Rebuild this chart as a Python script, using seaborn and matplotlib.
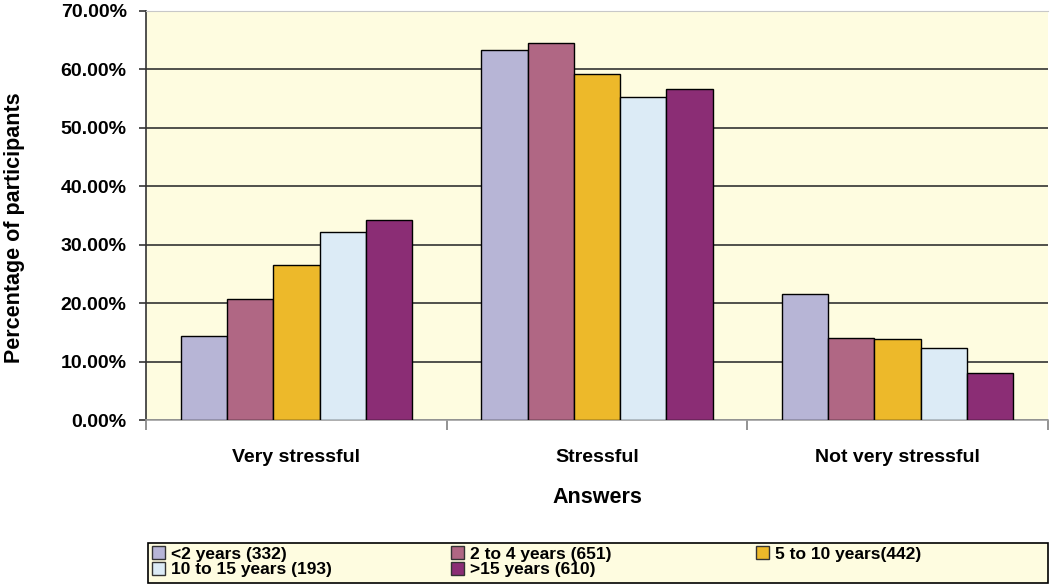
import pandas as pd
import numpy as np
import matplotlib
matplotlib.use("Agg")
import matplotlib.pyplot as plt
import seaborn as sns
from matplotlib.ticker import FixedLocator

sns.set_style("white")
plt.rcParams["font.family"] = ["Liberation Sans", "DejaVu Sans"]
plt.rcParams["font.weight"] = "bold"
plt.rcParams["text.color"] = "black"
plt.rcParams["axes.labelcolor"] = "black"
plt.rcParams["xtick.color"] = "black"
plt.rcParams["ytick.color"] = "black"

answers = ["Very stressful", "Stressful", "Not very stressful"]
groups = [
    "<2 years (332)",
    "2 to 4 years (651)",
    "5 to 10 years(442)",
    "10 to 15 years (193)",
    ">15 years (610)",
]
lt2_years = [14.3, 63.3, 21.5]
y2_to_4 = [20.7, 64.5, 14.1]
y5_to_10 = [26.5, 59.3, 13.9]
y10_to_15 = [32.1, 55.3, 12.4]
gt15_years = [34.3, 56.6, 8.0]
colors = ["#B7B5D6", "#B06784", "#EDB92A", "#DCEBF6", "#8B2D75"]

series = [lt2_years, y2_to_4, y5_to_10, y10_to_15, gt15_years]
rows = []
for g, vals in zip(groups, series):
    for a, v in zip(answers, vals):
        rows.append({"answer": a, "group": g, "pct": v})
df = pd.DataFrame(rows)

fig = plt.figure(figsize=(10.51, 5.88), dpi=100)
ax = fig.add_axes([0.139, 0.2857, 0.858, 0.6956])
ax.set_facecolor("#FEFCE0")

sns.barplot(
    data=df, x="answer", y="pct", hue="group",
    order=answers, hue_order=groups, palette=colors,
    width=0.77, saturation=1, edgecolor="black", linewidth=1,
    ax=ax, legend=False, zorder=3,
)

ax.set_ylim(0, 70)
ax.set_xlim(-0.5, 2.5)
ax.set_yticks(np.arange(0, 71, 10))
ax.set_yticklabels([f"{v:.2f}%" for v in np.arange(0, 71, 10)],
                   fontsize=14, fontweight="bold", color="black")
ax.yaxis.grid(True, color="#333333", linewidth=1.2, zorder=0)
ax.set_axisbelow(True)

ax.tick_params(axis="x", which="major", length=0, pad=21, labelsize=14,
               labelcolor="black")
ax.xaxis.set_minor_locator(FixedLocator([-0.5, 0.5, 1.5, 2.5]))
ax.tick_params(axis="x", which="minor", length=7, width=1.2, color="#808080",
               direction="out", bottom=True)
ax.tick_params(axis="y", length=5, width=1.2, color="#333333", pad=9,
               direction="out", left=True)
for lbl in ax.get_xticklabels():
    lbl.set_fontweight("bold")

ax.spines["left"].set_color("#333333")
ax.spines["left"].set_linewidth(1.2)
ax.spines["bottom"].set_color("#A0A0A0")
ax.spines["bottom"].set_linewidth(1.2)
ax.spines["top"].set_color("#C8C8C8")
ax.spines["right"].set_visible(False)

ax.set_xlabel("Answers", fontsize=15.5, fontweight="bold", color="black")
ax.set_ylabel("Percentage of participants", fontsize=15.5, fontweight="bold",
              color="black")
ax.xaxis.set_label_coords(0.5, -0.163)
ax.yaxis.set_label_coords(-0.134, 0.47)

# legend box spanning the width, three columns filled row by row
frame = plt.Rectangle((0.141, 0.0085), 0.856, 0.068, transform=fig.transFigure,
                      facecolor="#FEFCE0", edgecolor="black", linewidth=1.2)
fig.patches.append(frame)

handles = [plt.Rectangle((0, 0), 1, 1, facecolor=c, edgecolor="#333333", linewidth=1)
           for c in colors]
columns = [[0, 3], [1, 4], [2]]
col_x = [0.141, 0.426, 0.716]
for idx, x in zip(columns, col_x):
    lg = fig.legend(
        [handles[i] for i in idx], [groups[i] for i in idx],
        loc="upper left", bbox_to_anchor=(x, 0.0765), borderaxespad=0,
        prop={"weight": "bold", "size": 12.5},
        handlelength=0.75, handleheight=0.75, handletextpad=0.35,
        labelspacing=0.0, borderpad=0.2, frameon=False,
    )
    for t in lg.get_texts():
        t.set_color("black")

fig.savefig("out.png", dpi=100)
